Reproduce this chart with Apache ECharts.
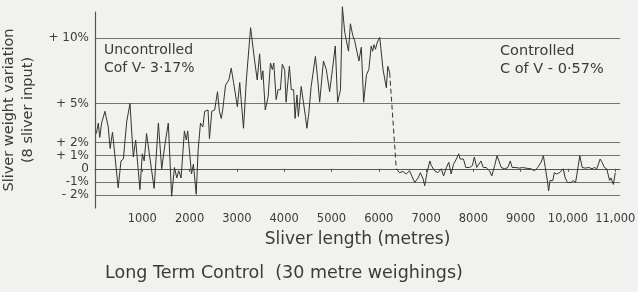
<!DOCTYPE html>
<html>
<head>
<meta charset="utf-8">
<script src="https://cdn.jsdelivr.net/npm/echarts@6/dist/echarts.min.js"></script>
<style>
  html, body { margin: 0; padding: 0; background: #f1f1ef; }
  #chart { width: 638px; height: 292px; }
</style>
</head>
<body>
<div id="chart"></div>
<script>
// sliver length (metres) and weight variation (%)
var uncontrolledLen = [30, 70, 100, 140, 210, 280, 320, 370, 490, 550, 600, 670, 740, 770, 810, 860, 950, 1000, 1040, 1090,
    1250, 1340, 1410, 1480, 1550, 1620, 1680, 1730, 1770, 1820, 1890, 1930, 1960, 2040, 2080, 2140, 2180, 2230, 2280, 2320,
    2390, 2420, 2470, 2530, 2590, 2630, 2670, 2700, 2760, 2830, 2880, 2930, 3010, 3060, 3140, 3200, 3290, 3370, 3430, 3480,
    3520, 3550, 3600, 3660, 3710, 3750, 3780, 3830, 3870, 3920, 3960, 4010, 4040, 4080, 4110, 4150, 4200, 4230, 4270, 4300,
    4360, 4410, 4450, 4480, 4520, 4570, 4660, 4710, 4750, 4830, 4890, 4920, 4960, 5020, 5080, 5130, 5190, 5230, 5280, 5310,
    5360, 5400, 5450, 5490, 5520, 5580, 5630, 5680, 5740, 5790, 5840, 5870, 5900, 5930, 5970, 6020, 6090, 6130, 6160, 6190, 6230];
var uncontrolledVar = [2.7, 3.5, 2.4, 3.5, 4.4, 3.2, 1.55, 2.8, -1.45, 0.6, 0.75, 3.6, 5.0, 3.2, 0.9, 2.2, -1.6, 1.15, 0.6, 2.7,
    -1.5, 3.5, 0, 1.9, 3.5, -2.1, 0.1, -0.7, -0.15, -0.7, 2.9, 2.2, 2.9, -0.4, 0.35, -1.95, 1.4, 3.5, 3.2, 4.4,
    4.5, 2.3, 4.4, 4.5, 5.9, 4.4, 3.85, 4.5, 6.4, 6.8, 7.7, 6.6, 4.75, 6.6, 3.1, 6.8, 10.8, 8.4, 6.8, 8.8,
    6.8, 7.5, 4.5, 5.5, 8.1, 7.6, 8.1, 5.3, 6.05, 6.05, 8.0, 7.6, 5.1, 6.7, 7.85, 6.05, 6.05, 3.85, 5.65, 4.0,
    6.3, 5.0, 4.0, 3.1, 4.25, 6.3, 8.6, 6.8, 5.1, 8.25, 7.6, 7.5, 5.9, 7.6, 9.4, 5.1, 6.05, 12.4, 10.45, 10.45,
    9.0, 11.1, 10.2, 9.8, 9.9, 8.25, 9.3, 5.1, 7.2, 7.6, 9.4, 9.0, 9.5, 9.15, 9.7, 10.05, 7.6, 7.5, 6.2, 7.85, 7.35];

var dropLen = [6230, 6370];
var dropVar = [7.35, 0.0];

var controlledLen = [6370, 6440, 6510, 6580, 6650, 6760, 6830, 6880, 6940, 6970, 7020, 7080, 7110, 7150, 7180, 7250, 7320, 7370,
    7430, 7480, 7530, 7580, 7640, 7690, 7720, 7790, 7840, 7920, 7980, 8020, 8070, 8110, 8160, 8210, 8270, 8340, 8390, 8450,
    8500, 8540, 8590, 8660, 8730, 8780, 8820, 8900, 8970, 9040, 9110, 9220, 9290, 9360, 9430, 9480, 9520, 9570, 9590, 9620,
    9680, 9710, 9760, 9820, 9850, 9900, 9940, 9990, 10060, 10110, 10160, 10190, 10250, 10300, 10370, 10440, 10510, 10560,
    10610, 10680, 10720, 10770, 10820, 10880, 10910, 10960, 11000];
var controlledVar = [0.0, -0.3, -0.2, -0.4, -0.15, -1.05, -0.7, -0.3, -0.8, -1.3, -0.3, 0.6, 0.25, 0.35, -0.15, -0.3, 0, -0.55,
    0.1, 0.5, -0.4, 0.35, 0.75, 1.15, 0.75, 0.75, 0.1, 0.1, 0.25, 0.9, 0.1, 0.1, 0.6, 0.1, 0.1, -0.15, -0.55, 0.25,
    1.0, 1.1, 0.1, 0.0, 0.1, 0.6, 0.1, 0.1, 0.05, 0.1, 0.05, 0, -0.15, 0.1, 0.5, 1.0, 0.1, -1.05, -1.7, -0.9,
    -0.9, -0.3, -0.4, -0.3, -0.4, 0, -0.7, -1.05, -1.05, -0.9, -1.05, -0.4, 1.0, 0.1, 0.05, 0.1, 0, 0.1,
    0, 0.75, 0.5, 0.1, 0, -0.9, -0.7, -1.2, -0.3];

var yTickValues = [10, 5, 2, 1, 0, -1, -2];
var yTickLabels = ['+ 10%', '+ 5%', '+ 2%', '+ 1%', '0', '-1%', '- 2%'];

var yMin = -3, yMax = 12;

function pairs(xs, ys) {
    var out = [];
    for (var i = 0; i < xs.length; i++) out.push([xs[i], ys[i]]);
    return out;
}

// split lines only where the chart has a labelled level
var gridColors = [];
for (var v = yMin; v <= yMax; v++) {
    gridColors.push(yTickValues.indexOf(v) >= 0 ? '#737373' : 'rgba(0,0,0,0)');
}

var ink = '#3a3a3a';
var font = 'DejaVu Sans';

var option = {
    animation: false,
    backgroundColor: '#f1f1ef',
    textStyle: { fontFamily: font, color: ink },
    grid: { left: 95, right: 18, top: 12, bottom: 84, outerBoundsMode: 'none', containLabel: false },
    xAxis: {
        type: 'value',
        min: 0,
        max: 11100,
        interval: 1000,
        name: 'Sliver length (metres)',
        nameLocation: 'middle',
        nameGap: 23,
        nameTextStyle: { fontSize: 17, color: ink, fontFamily: font },
        axisLine: { lineStyle: { color: '#555', width: 1.2 } },
        axisTick: { length: 3, lineStyle: { color: '#555' } },
        splitLine: { show: false },
        axisLabel: {
            color: ink,
            fontSize: 11.5,
            margin: 5,
            showMaxLabel: false,
            formatter: function (v) {
                if (v === 0 || v % 1000 !== 0) return '';
                if (v >= 10000) return Math.floor(v / 1000) + ',000';
                return String(v);
            }
        }
    },
    yAxis: {
        type: 'value',
        min: yMin,
        max: yMax,
        interval: 1,
        name: 'Sliver weight variation\n(8 sliver input)',
        nameLocation: 'middle',
        nameRotate: 90,
        nameGap: 54,
        nameTextStyle: { fontSize: 14.5, color: ink, lineHeight: 19, fontFamily: font },
        axisLine: { show: true, lineStyle: { color: '#555', width: 1.2 } },
        axisTick: { show: false },
        splitLine: { show: true, lineStyle: { color: gridColors, width: 1 } },
        axisLabel: {
            color: ink,
            fontSize: 12,
            margin: 6,
            formatter: function (v) {
                var k = yTickValues.indexOf(v);
                return k < 0 ? '' : yTickLabels[k];
            }
        }
    },
    graphic: [
        { type: 'text', left: 104, top: 43, style: { text: 'Uncontrolled', font: '14px "DejaVu Sans"', fill: ink } },
        { type: 'text', left: 104, top: 61, style: { text: 'Cof V- 3·17%', font: '14px "DejaVu Sans"', fill: ink } },
        { type: 'text', left: 500, top: 44, style: { text: 'Controlled', font: '14.5px "DejaVu Sans"', fill: ink } },
        { type: 'text', left: 500, top: 62, style: { text: 'C of V - 0·57%', font: '14.5px "DejaVu Sans"', fill: ink } },
        { type: 'text', left: 105, top: 264, style: { text: 'Long Term Control  (30 metre weighings)', font: '17.5px "DejaVu Sans"', fill: ink } }
    ],
    series: [
        {
            type: 'line',
            data: pairs(uncontrolledLen, uncontrolledVar),
            showSymbol: false,
            clip: false,
            lineStyle: { color: '#333', width: 1 },
            z: 3
        },
        {
            type: 'line',
            data: pairs(dropLen, dropVar),
            showSymbol: false,
            lineStyle: { color: '#333', width: 1, type: [5, 3] },
            z: 3
        },
        {
            type: 'line',
            data: pairs(controlledLen, controlledVar),
            showSymbol: false,
            lineStyle: { color: '#333', width: 1 },
            z: 3
        }
    ]
};

var chart = echarts.init(document.getElementById('chart'));
chart.setOption(option);
</script>
</body>
</html>
